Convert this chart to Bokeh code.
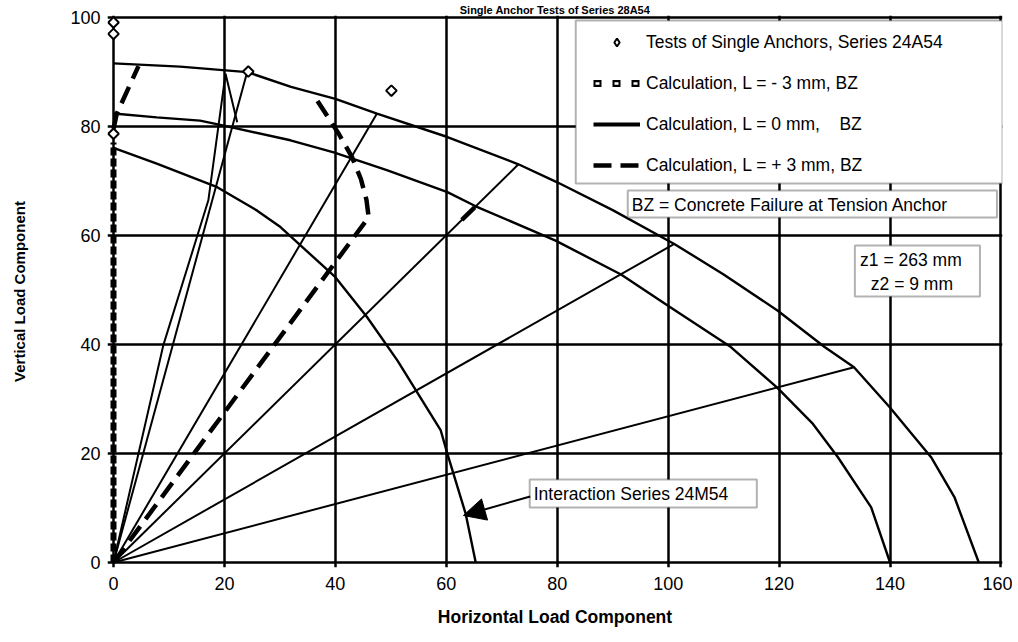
from bokeh.plotting import figure
from bokeh.models import (Range1d, FixedTicker, BoxAnnotation, Label, Arrow,
                          NormalHead, Legend, LegendItem)
from bokeh.embed import file_html
from bokeh.resources import INLINE

# ---------------- data ----------------
title_text = "Single Anchor Tests of Series 28A54"
x_label = "Horizontal Load Component"
y_label = "Vertical Load Component"

x_ticks = [0, 20, 40, 60, 80, 100, 120, 140, 160]
y_ticks = [0, 20, 40, 60, 80, 100]

# outer interaction curve
outer_x = [0, 12.0, 24.1, 32.0, 40.0, 47.5, 60.2, 73.0, 80.0, 90.0, 101.1,
           110.0, 119.7, 128.2, 133.5, 139.9, 147.4, 151.6, 156.0]
outer_y = [91.5, 90.9, 89.9, 87.2, 85.0, 82.3, 78.0, 73.0, 69.7, 64.6, 58.4,
           52.8, 46.2, 39.5, 35.8, 28.5, 19.3, 12.0, 0.0]

# middle interaction curve
middle_x = [0, 7.8, 15.6, 19.9, 31.9, 39.7, 49.4, 60.2, 65.3, 79.7, 91.5,
            99.9, 111.3, 119.7, 126.1, 130.6, 136.6, 140.0]
middle_y = [82.3, 81.6, 81.0, 80.1, 77.4, 75.2, 71.9, 67.9, 65.3, 59.0, 52.8,
            47.1, 39.5, 32.0, 25.4, 19.3, 10.1, 0.0]

# inner curve: Interaction Series 24M54
inner_x = [0, 7.8, 18.7, 25.9, 30.1, 40.0, 45.7, 51.2, 59.0, 60.2, 63.5, 65.3]
inner_y = [76.0, 73.1, 68.8, 64.5, 61.5, 52.3, 45.0, 37.0, 24.2, 19.9, 8.9, 0.0]

# load direction rays (15, 30, 45, 60, 75 degrees) ending on the outer curve
ray_start_x = [0, 0, 0, 0, 0]
ray_start_y = [0, 0, 0, 0, 0]
ray_end_x = [133.5, 101.1, 73.0, 47.5, 24.1]
ray_end_y = [35.8, 58.4, 73.0, 82.3, 89.9]

# tests of single anchors, series 24A54
test_x = [0, 0, 0, 24.3, 50.1]
test_y = [99.0, 96.9, 78.6, 90.0, 86.5]

# calculation L = -3 mm
calc_m3_x = [0, 0]
calc_m3_y = [0, 77.0]

# calculation L = 0 mm
calc_0_x = [0, 9.0, 17.1, 20.2, 22.3]
calc_0_y = [0, 39.9, 66.4, 89.6, 80.7]

# calculation L = +3 mm (three paths)
calc_p3_xs = [[0.0, 0.6, 4.5],
              [0, 46.0, 45.6, 44.6, 43.0, 40.6, 36.4],
              [62.8, 66.0]]
calc_p3_ys = [[79.5, 82.3, 91.0],
              [0, 63.3, 66.5, 70.3, 74.3, 78.6, 85.2],
              [62.8, 66.0]]

legend_labels = ["Tests of Single Anchors, Series 24A54",
                 "Calculation, L = - 3 mm, BZ",
                 "Calculation, L = 0 mm,    BZ",
                 "Calculation, L = + 3 mm, BZ"]
bz_note = "BZ = Concrete Failure at Tension Anchor"
z_note = ["z1 = 263 mm", "z2 = 9 mm"]
interaction_note = "Interaction Series 24M54"

NAN = float("nan")   # used for key-only renderers (nothing drawn in the plot)

# ---------------- layout ----------------
FONT = "Liberation Sans"
SX = 5.544   # px per x unit
SY = 5.455   # px per y unit
PAD_L, PAD_B, PAD_T, PAD_R = 6, 5, 1.5, 1.5
XMIN, XMAX, YMIN, YMAX = 0, 160, 0, 100
FRAME_LEFT, FRAME_TOP = 107, 15          # page pixels
FRAME_W = round((XMAX - XMIN) * SX + PAD_L + PAD_R)
FRAME_H = round((YMAX - YMIN) * SY + PAD_B + PAD_T)
FRAME_BOTTOM = FRAME_TOP + FRAME_H

p = figure(
    title=title_text,
    frame_width=FRAME_W, frame_height=FRAME_H,
    x_range=Range1d(XMIN - PAD_L / SX, XMAX + PAD_R / SX),
    y_range=Range1d(YMIN - PAD_B / SY, YMAX + PAD_T / SY),
    min_border_left=FRAME_LEFT, min_border_right=10,
    min_border_top=FRAME_TOP, min_border_bottom=66,
    output_backend="svg", toolbar_location=None,
    background_fill_color="white", border_fill_color="white",
    outline_line_color=None,
)
p.title.align = "center"
p.title.text_font = FONT
p.title.text_font_size = "11px"
p.title.text_font_style = "bold"
p.title.text_color = "black"
p.title.standoff = 0
p.title.offset = 0

p.xaxis.ticker = FixedTicker(ticks=x_ticks)
p.yaxis.ticker = FixedTicker(ticks=y_ticks)
p.xgrid.ticker = FixedTicker(ticks=x_ticks)
p.ygrid.ticker = FixedTicker(ticks=y_ticks)
p.grid.grid_line_color = "black"
p.grid.grid_line_width = 2.5
p.grid.grid_line_alpha = 1

for ax in (p.xaxis[0], p.yaxis[0]):
    ax.axis_line_color = None
    ax.major_tick_line_color = None
    ax.major_tick_in = 0
    ax.major_tick_out = 0
    ax.minor_tick_line_color = None
    ax.major_label_text_font = FONT
    ax.major_label_text_font_size = "18px"
    ax.major_label_text_color = "black"
    ax.axis_label_text_font = FONT
    ax.axis_label_text_font_style = "bold"
    ax.axis_label_text_color = "black"

p.xaxis.axis_label = x_label
p.yaxis.axis_label = y_label
p.xaxis.major_label_standoff = 9
p.yaxis.major_label_standoff = 7
p.xaxis.axis_label_standoff = 14
p.yaxis.axis_label_standoff = 39
p.xaxis.axis_label_text_font_size = "17.5px"
p.yaxis.axis_label_text_font_size = "15px"

# ---------------- glyphs ----------------
p.line(outer_x, outer_y, line_color="black", line_width=2.4)
p.line(middle_x, middle_y, line_color="black", line_width=2.4)
p.line(inner_x, inner_y, line_color="black", line_width=2.4)
p.segment(x0=ray_start_x, y0=ray_start_y, x1=ray_end_x, y1=ray_end_y,
          line_color="black", line_width=2)

p.line(calc_m3_x, calc_m3_y, line_color="black", line_width=6,
       line_dash="8 3")
p.line(calc_0_x, calc_0_y, line_color="black", line_width=2)
r_p3 = p.multi_line(calc_p3_xs, calc_p3_ys, line_color="black",
                    line_width=4.5, line_dash="18 9")
p.scatter(test_x, test_y, marker="square", size=7.5, angle=0.7854,
          fill_color="white", line_color="black", line_width=2)

# key-only renderers: one NaN row, so nothing is drawn inside the plot
k_tests = p.scatter([NAN], [NAN], marker="diamond", size=12,
                    fill_color="white", line_color="black", line_width=2)
k_m3 = p.line([NAN], [NAN], line_color="black", line_width=7,
              line_dash="8 11")
k_m3_in = p.line([NAN], [NAN], line_color="white", line_width=2.4,
                 line_dash="4 15", line_dash_offset=-2)
k_0 = p.line([NAN], [NAN], line_color="black", line_width=4)

# ---------------- annotations ----------------
def px_x(px):
    return (px - 113) / SX

def px_y(py):
    return (562 - py) / SY

# legend frame
p.add_layout(BoxAnnotation(left=px_x(575), right=XMAX + PAD_R / SX,
                           top=px_y(20), bottom=px_y(183),
                           fill_color="white", fill_alpha=1,
                           line_color="black", line_width=2))
ITEM_H, SPACING = 21, 20
LEG_H = 4 * ITEM_H + 3 * SPACING
row1_center = 42
legend = Legend(items=[LegendItem(label=legend_labels[0], renderers=[k_tests]),
                       LegendItem(label=legend_labels[1],
                                  renderers=[k_m3, k_m3_in]),
                       LegendItem(label=legend_labels[2], renderers=[k_0]),
                       LegendItem(label=legend_labels[3], renderers=[r_p3])],
                location=(593 - FRAME_LEFT,
                          FRAME_BOTTOM - (row1_center - ITEM_H / 2) - LEG_H),
                padding=0, margin=0, spacing=SPACING,
                glyph_width=47, glyph_height=20, label_height=20,
                label_standoff=6,
                label_text_font=FONT, label_text_font_size="17.5px",
                label_text_color="black",
                border_line_color=None, background_fill_alpha=0)
p.add_layout(legend)

# BZ note
p.add_layout(BoxAnnotation(left=px_x(627), right=px_x(996), top=px_y(190),
                           bottom=px_y(217), fill_color="white", fill_alpha=1,
                           line_color="black", line_width=2))
p.add_layout(Label(x=px_x(631), y=px_y(204), text=bz_note,
                   text_baseline="middle", text_align="left",
                   text_font=FONT, text_font_size="17.5px",
                   text_color="black"))

# z1 / z2 note
p.add_layout(BoxAnnotation(left=px_x(854), right=px_x(979), top=px_y(245),
                           bottom=px_y(296), fill_color="white", fill_alpha=1,
                           line_color="black", line_width=2))
p.add_layout(Label(x=px_x(910), y=px_y(259), text=z_note[0],
                   text_baseline="middle", text_align="center",
                   text_font=FONT, text_font_size="17.5px",
                   text_color="black"))
p.add_layout(Label(x=px_x(911), y=px_y(283), text=z_note[1],
                   text_baseline="middle", text_align="center",
                   text_font=FONT, text_font_size="17.5px",
                   text_color="black"))

# interaction note with arrow
p.add_layout(BoxAnnotation(left=px_x(529), right=px_x(756), top=px_y(479),
                           bottom=px_y(507), fill_color="white", fill_alpha=1,
                           line_color="black", line_width=2))
p.add_layout(Label(x=px_x(533), y=px_y(493), text=interaction_note,
                   text_baseline="middle", text_align="left",
                   text_font=FONT, text_font_size="17.5px",
                   text_color="black"))
p.add_layout(Arrow(end=NormalHead(size=22, fill_color="black",
                                  line_color="black"),
                   x_start=px_x(529.5), y_start=px_y(496),
                   x_end=px_x(462.7), y_end=px_y(515),
                   line_color="black", line_width=2))

open("out.html", "w").write(file_html(p, INLINE))
